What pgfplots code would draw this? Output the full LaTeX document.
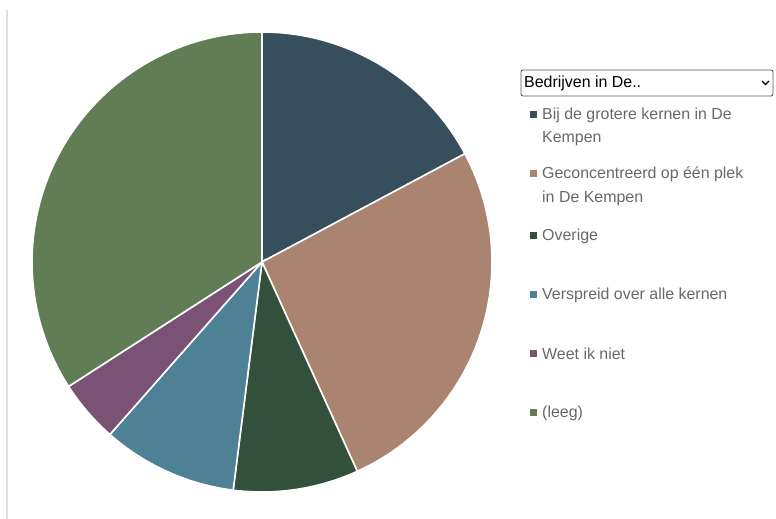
\documentclass[border=0pt]{standalone}
\usepackage{pgfplots}
\pgfplotsset{compat=1.18}
\usepackage{fontspec}
\setmainfont{Liberation Sans}
\definecolor{cSlate}{HTML}{374F5D}
\definecolor{cTan}{HTML}{AB8471}
\definecolor{cDkGreen}{HTML}{33513A}
\definecolor{cTeal}{HTML}{4E8195}
\definecolor{cPurple}{HTML}{7A5276}
\definecolor{cGreen}{HTML}{617D55}
\definecolor{cText}{HTML}{686868}
\begin{document}
\begin{tikzpicture}
% slice shares in percent (clockwise from 12 o'clock)
\def\vA{17.2}\def\vB{26.0}\def\vC{8.8}\def\vD{9.5}\def\vE{4.4}\def\vF{34.1}
\pgfmathsetmacro{\aA}{0}
\pgfmathsetmacro{\aB}{\aA+3.6*\vA}
\pgfmathsetmacro{\aC}{\aB+3.6*\vB}
\pgfmathsetmacro{\aD}{\aC+3.6*\vC}
\pgfmathsetmacro{\aE}{\aD+3.6*\vD}
\pgfmathsetmacro{\aF}{\aE+3.6*\vE}
\pgfmathsetmacro{\aG}{360}
\begin{axis}[
  at={(0,0)}, anchor=south west,
  scale only axis, width=776bp, height=519bp,
  xmin=0, xmax=776, ymin=0, ymax=519,
  axis lines=none, clip=false,
  every axis plot/.append style={draw=white, line width=1.6bp, samples=90, variable=\t},
]
\addplot[fill=cSlate,   domain=\aA:\aB] ({262+230*sin(t)},{257+230*cos(t)}) -- (axis cs:262,257) -- cycle;
\addplot[fill=cTan,     domain=\aB:\aC] ({262+230*sin(t)},{257+230*cos(t)}) -- (axis cs:262,257) -- cycle;
\addplot[fill=cDkGreen, domain=\aC:\aD] ({262+230*sin(t)},{257+230*cos(t)}) -- (axis cs:262,257) -- cycle;
\addplot[fill=cTeal,    domain=\aD:\aE] ({262+230*sin(t)},{257+230*cos(t)}) -- (axis cs:262,257) -- cycle;
\addplot[fill=cPurple,  domain=\aE:\aF] ({262+230*sin(t)},{257+230*cos(t)}) -- (axis cs:262,257) -- cycle;
\addplot[fill=cGreen,   domain=\aF:\aG] ({262+230*sin(t)},{257+230*cos(t)}) -- (axis cs:262,257) -- cycle;

% left grey rule
\draw[color=black!12, line width=2bp] (axis cs:7,0) -- (axis cs:7,509);

% dropdown
\draw[color=black!65, line width=0.9bp, rounded corners=2bp] (axis cs:521,423) rectangle (axis cs:773,449);
\node[anchor=west, inner sep=0pt, font=\fontsize{16}{19}\selectfont] at (axis cs:524,436) {Bedrijven in De..};
\draw[line width=1.3bp] (axis cs:762,438) -- (axis cs:765.5,434.5) -- (axis cs:769,438);

% legend
\tikzset{lt/.style={anchor=west, inner sep=0pt, text=cText, font=\fontsize{16}{19}\selectfont}}
\fill[cSlate]   (axis cs:530,400.5) rectangle (axis cs:537,407.5);
\fill[cTan]     (axis cs:530,341.5) rectangle (axis cs:537,348.5);
\fill[cDkGreen] (axis cs:530,279.5) rectangle (axis cs:537,286.5);
\fill[cTeal]    (axis cs:530,220.5) rectangle (axis cs:537,227.5);
\fill[cPurple]  (axis cs:530,161.5) rectangle (axis cs:537,168.5);
\fill[cGreen]   (axis cs:530,102.5) rectangle (axis cs:537,109.5);
\node[lt] at (axis cs:542,404) {Bij de grotere kernen in De};
\node[lt] at (axis cs:542,380) {Kempen};
\node[lt] at (axis cs:542,345) {Geconcentreerd op één plek};
\node[lt] at (axis cs:542,321) {in De Kempen};
\node[lt] at (axis cs:542,283) {Overige};
\node[lt] at (axis cs:542,224) {Verspreid over alle kernen};
\node[lt] at (axis cs:542,165) {Weet ik niet};
\node[lt] at (axis cs:542,106) {(leeg)};
\end{axis}
\pgfresetboundingbox
\useasboundingbox (0,0) rectangle (776bp,519bp);
\end{tikzpicture}
\end{document}
